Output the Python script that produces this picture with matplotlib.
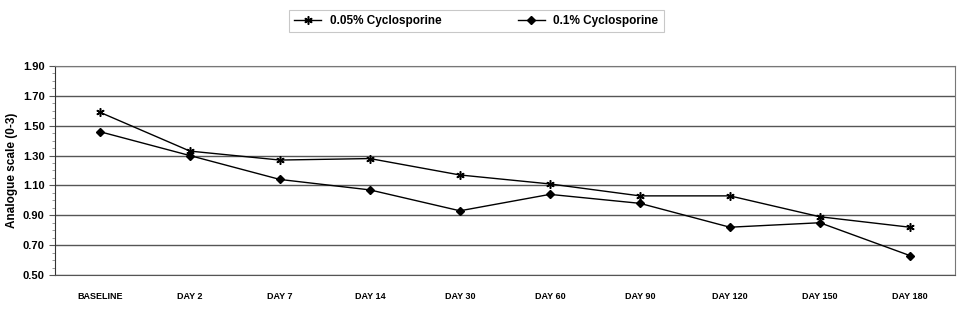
import matplotlib
matplotlib.use("Agg")
import matplotlib.pyplot as plt
from matplotlib.ticker import MultipleLocator

# -----------------------------
# Data
# -----------------------------
visits = ["BASELINE", "DAY 2", "DAY 7", "DAY 14", "DAY 30",
          "DAY 60", "DAY 90", "DAY 120", "DAY 150", "DAY 180"]
cyclo_005 = [1.59, 1.33, 1.27, 1.28, 1.17, 1.11, 1.03, 1.03, 0.89, 0.82]
cyclo_01 = [1.46, 1.30, 1.14, 1.07, 0.93, 1.04, 0.98, 0.82, 0.85, 0.63]
y_ticks = [0.50, 0.70, 0.90, 1.10, 1.30, 1.50, 1.70, 1.90]

plt.rcParams["font.family"] = ["Liberation Sans", "DejaVu Sans"]
plt.rcParams["font.weight"] = "bold"

# -----------------------------
# Chart
# -----------------------------
fig = plt.figure(figsize=(9.64, 3.10), dpi=100)
ax = fig.add_axes([0.057, 0.113, 0.9335, 0.674])

x = range(len(visits))
ax.plot(x, cyclo_005, color="black", linewidth=1, marker=(6, 2, 0),
        markersize=6, markeredgewidth=1.1, label="0.05% Cyclosporine")
ax.plot(x, cyclo_01, color="black", linewidth=1, marker="D",
        markersize=4, label="0.1% Cyclosporine")

ax.set_xlim(-0.5, len(visits) - 0.5)
ax.set_ylim(0.5, 1.9)
ax.set_xticks(list(x))
ax.set_xticklabels(visits, fontsize=6.5, fontweight="bold")
ax.set_yticks(y_ticks)
ax.set_yticklabels([f"{v:.2f}" for v in y_ticks], fontsize=8, fontweight="bold")
ax.yaxis.set_minor_locator(MultipleLocator(0.05))
ax.tick_params(axis="x", length=0, pad=12)
ax.tick_params(axis="y", which="major", length=4, width=0.8, color="#555555")
ax.tick_params(axis="y", which="minor", length=2, width=0.6, color="#888888")
ax.set_ylabel("Analogue scale (0-3)", fontsize=8.5, fontweight="bold", labelpad=3)

ax.grid(axis="y", which="major", color="#555555", linewidth=1)
ax.set_axisbelow(True)
for side in ["top", "right"]:
    ax.spines[side].set_color("#777777")
ax.spines["left"].set_color("#333333")
ax.spines["bottom"].set_color("#555555")

leg = fig.legend(loc="upper center", bbox_to_anchor=(0.494, 0.988), ncol=2,
                 frameon=True, fancybox=False, edgecolor="#bbbbbb",
                 columnspacing=6.5, handlelength=2.3, handletextpad=0.7,
                 borderpad=0.45, prop={"weight": "bold", "size": 8.5})
leg.get_frame().set_linewidth(0.8)

plt.savefig("out.png", dpi=100)
plt.close()
